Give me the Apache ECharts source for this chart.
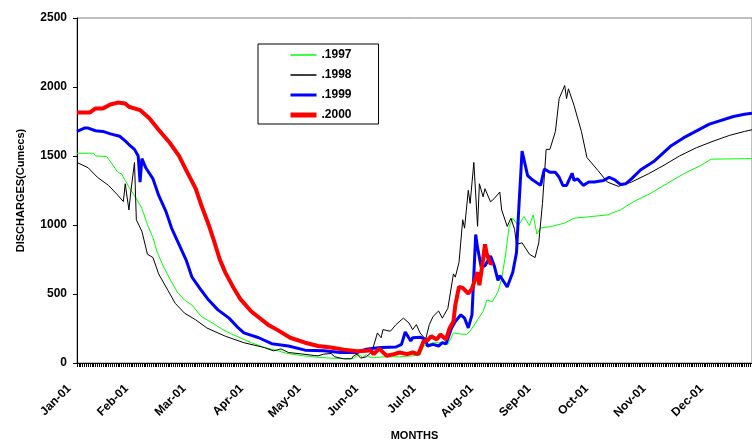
<!DOCTYPE html>
<html>
<head>
<meta charset="utf-8">
<script src="https://cdn.jsdelivr.net/npm/echarts@6/dist/echarts.min.js"></script>
<style>
  html, body { margin: 0; padding: 0; background: #fff; }
  #chart { width: 752px; height: 446px; }
</style>
</head>
<body>
<div id="chart"></div>
<script>
// month tick labels, one every 31 days (Excel date axis, mmm-yy)
const monthLabels = ['Jan-01', 'Feb-01', 'Mar-01', 'Apr-01', 'May-01', 'Jun-01',
  'Jul-01', 'Aug-01', 'Sep-01', 'Oct-01', 'Nov-01', 'Dec-01']
const dayCount = 365

// [day of year, discharge]
const s1997 = [[0, 1520], [9, 1520], [10, 1500], [16, 1496], [19, 1441], [22, 1382], [24, 1370],
  [26, 1323], [28, 1275], [32, 1192], [35, 1120], [38, 1002], [41, 907], [43, 812], [46, 717],
  [50, 610], [54, 515], [58, 456], [62, 420], [67, 337], [73, 290], [78, 247], [83, 212], [90, 171],
  [94, 147], [99, 123], [101, 112], [108, 90], [113, 70], [117, 62], [122, 52], [126, 47],
  [130, 41], [137, 35], [144, 32], [149, 33], [152, 62], [154, 40], [156, 60], [158, 42],
  [160, 40], [167, 45], [174, 45], [181, 52], [185, 59], [187, 123], [192, 147], [197, 147],
  [200, 135], [203, 218], [206, 211], [210, 207], [212, 230], [216, 313], [219, 373], [221, 456],
  [224, 444], [227, 515], [229, 610], [231, 776], [233, 985], [235, 1049], [238, 995], [241, 1061],
  [244, 995], [246, 1073], [248, 935], [250, 978], [256, 990], [263, 1014], [268, 1049], [277, 1061],
  [286, 1073], [293, 1109], [300, 1168], [309, 1227], [318, 1299], [327, 1370], [336, 1429],
  [342, 1477], [364, 1481]]

const s1998 = [[0, 1453], [6, 1415], [11, 1346], [17, 1287], [22, 1216], [25, 1170], [26, 1299],
  [28, 1109], [29, 1239], [31, 1453], [32, 1038], [35, 954], [38, 788], [41, 764], [44, 646],
  [49, 527], [53, 432], [58, 361], [64, 313], [70, 254], [80, 194], [90, 147], [101, 112], [106, 88],
  [110, 102], [114, 76], [121, 66], [128, 54], [130, 52], [133, 64], [137, 69], [139, 45],
  [144, 30], [148, 30], [149, 50], [151, 64], [153, 35], [156, 45], [159, 80], [162, 218],
  [164, 183], [165, 242], [169, 230], [172, 278], [176, 325], [179, 290], [181, 242], [183, 278],
  [185, 218], [188, 171], [190, 278], [192, 337], [195, 377], [197, 325], [200, 397], [203, 646],
  [204, 622], [206, 729], [208, 1038], [209, 977], [211, 1251], [212, 1156], [214, 1453], [216, 990],
  [217, 1299], [219, 1204], [220, 1263], [223, 1168], [225, 1192], [228, 1239], [229, 1109],
  [232, 990], [234, 1049], [236, 967], [237, 860], [240, 871], [244, 788], [247, 764], [249, 871],
  [251, 1156], [253, 1548], [255, 1548], [258, 1678], [260, 1916], [263, 2011], [264, 1916],
  [265, 1987], [268, 1868], [272, 1678], [275, 1489], [281, 1394], [286, 1311], [292, 1280],
  [299, 1311], [308, 1370], [316, 1429], [325, 1501], [334, 1560], [343, 1607], [352, 1650],
  [360, 1678], [364, 1690]]

const s1999 = [[0, 1678], [4, 1702], [6, 1702], [10, 1683], [14, 1678], [18, 1660], [23, 1643],
  [26, 1610], [28, 1583], [31, 1548], [33, 1500], [34, 1311], [35, 1481], [37, 1417], [41, 1334],
  [44, 1216], [48, 1097], [51, 978], [55, 860], [59, 741], [62, 622], [67, 527], [71, 456],
  [76, 385], [82, 325], [87, 254], [90, 218], [98, 183],
  [105, 140], [114, 123], [123, 93], [133, 88], [142, 76], [151, 76], [156, 100], [160, 107],
  [164, 112], [172, 116], [175, 135], [177, 225], [180, 159], [181, 183], [185, 187], [188, 171],
  [189, 123], [192, 135], [195, 123], [197, 147], [199, 140], [202, 254], [204, 301], [207, 349],
  [209, 325], [211, 254], [212, 249], [213, 349], [215, 931], [216, 836], [218, 693], [220, 705],
  [223, 776], [225, 705], [227, 598], [228, 634], [232, 551], [235, 658], [237, 800], [238, 1061],
  [240, 1536], [243, 1358], [245, 1334], [250, 1287], [252, 1406], [255, 1382], [258, 1382],
  [260, 1346], [262, 1287], [264, 1287], [267, 1375], [268, 1323], [270, 1334], [273, 1287],
  [276, 1311], [279, 1311], [284, 1323], [287, 1346], [290, 1327], [293, 1294], [296, 1299],
  [299, 1334], [304, 1400], [311, 1460], [320, 1570], [327, 1631], [341, 1731], [354, 1786],
  [360, 1802], [364, 1810]]

const s2000 = [[0, 1816], [7, 1816], [10, 1845], [14, 1845], [18, 1873], [22, 1887], [26, 1880],
  [28, 1857], [34, 1833], [39, 1774], [44, 1690], [50, 1596], [55, 1501], [59, 1394], [64, 1263],
  [67, 1145], [71, 1002], [74, 880], [77, 750], [80, 655], [84, 555], [88, 465], [94, 373], [103, 278],
  [108, 240], [115, 183], [123, 147], [130, 123], [137, 112], [144, 97], [151, 85], [156, 88],
  [158, 93], [160, 64], [163, 104], [167, 52], [171, 64], [174, 76], [178, 64], [181, 76],
  [184, 64], [187, 159], [189, 164], [191, 194], [194, 171], [196, 207], [199, 171], [201, 254],
  [203, 301], [204, 420], [206, 551], [208, 544], [211, 503], [213, 539], [214, 527], [216, 658],
  [217, 563], [219, 752], [220, 860], [221, 788], [223, 717], [224, 730]]

const yTicks = { min: 0, max: 2500, interval: 500 }

const days = []
for (let i = 0; i < dayCount; i++) days.push(String(i))

const font = 'Arial, "Liberation Sans", sans-serif'
const chart = echarts.init(document.getElementById('chart'), null, { renderer: 'canvas' })

function line (name, data, color, width) {
  return {
    name: name,
    type: 'line',
    data: data,
    symbol: 'none',
    animation: false,
    lineStyle: { color: color, width: width },
    itemStyle: { color: color }
  }
}

chart.setOption({
  animation: false,
  backgroundColor: '#fff',
  grid: {
    left: 77,
    top: 18,
    width: 684,
    height: 351,
    show: true,
    borderColor: '#808080',
    borderWidth: 1
  },
  legend: {
    orient: 'vertical',
    left: 258,
    top: 44,
    padding: [5, 27, 3, 30],
    itemWidth: 26,
    itemHeight: 14,
    itemGap: 8,
    backgroundColor: '#fff',
    borderColor: '#000',
    borderWidth: 1,
    itemStyle: { opacity: 0 },
    textStyle: { fontFamily: font, fontSize: 12, fontWeight: 'bold', color: '#000' },
    data: [
      { name: '.1997', lineStyle: { width: 1.5 } },
      { name: '.1998', lineStyle: { width: 1.5 } },
      { name: '.1999', lineStyle: { width: 3 } },
      { name: '.2000', lineStyle: { width: 5 } }
    ]
  },
  xAxis: {
    type: 'category',
    data: days,
    boundaryGap: false,
    name: 'MONTHS',
    nameLocation: 'middle',
    nameGap: 67,
    nameTextStyle: { fontFamily: font, fontSize: 11, fontWeight: 'bold', color: '#000' },
    axisLine: { show: true, lineStyle: { color: '#000', width: 1 } },
    axisTick: { show: true, interval: 0, length: 4, lineStyle: { color: '#000', width: 1 } },
    axisLabel: {
      interval: 30,
      rotate: 45,
      margin: 16,
      padding: [0, 11, 0, 0],
      fontFamily: font,
      fontSize: 12,
      fontWeight: 'bold',
      color: '#000',
      formatter: (v, i) => monthLabels[Math.round(i / 31)] || ''
    },
    splitLine: { show: false }
  },
  yAxis: {
    type: 'value',
    min: yTicks.min,
    max: yTicks.max,
    interval: yTicks.interval,
    name: 'DISCHARGES(Cumecs)',
    nameLocation: 'middle',
    nameGap: 51,
    nameTextStyle: { fontFamily: font, fontSize: 11, fontWeight: 'bold', color: '#000' },
    axisLine: { show: true, lineStyle: { color: '#000', width: 1 } },
    axisTick: { show: true, length: 4, lineStyle: { color: '#000' } },
    axisLabel: {
      margin: 10,
      fontFamily: font,
      fontSize: 12,
      fontWeight: 'bold',
      color: '#000',
      formatter: v => String(v)
    },
    splitLine: { show: false }
  },
  series: [
    line('.1997', s1997, '#00ff00', 1),
    line('.1998', s1998, '#000000', 1),
    line('.1999', s1999, '#0000ff', 3),
    line('.2000', s2000, '#ff0000', 4)
  ]
})
</script>
</body>
</html>
